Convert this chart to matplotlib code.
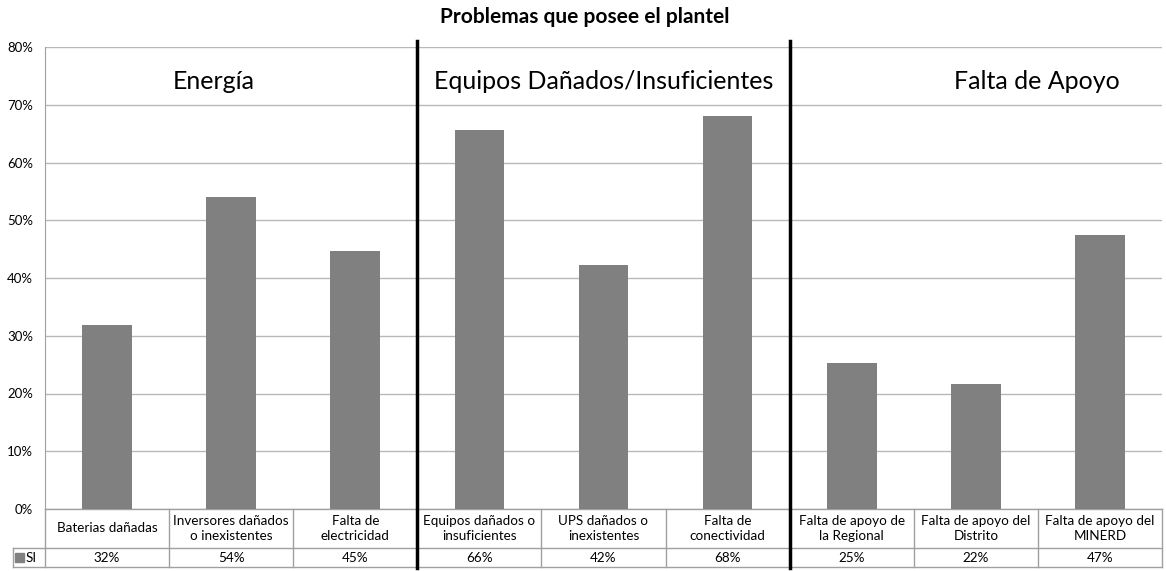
import numpy as np
import matplotlib
matplotlib.use('Agg')
import matplotlib.pyplot as plt
from matplotlib.transforms import blended_transform_factory
from matplotlib.patches import Rectangle

plt.rcParams['font.family'] = ['Lato', 'DejaVu Sans']

categories = ['Baterias dañadas', 'Inversores dañados\no inexistentes', 'Falta de\nelectricidad',
              'Equipos dañados o\ninsuficientes', 'UPS dañados o\ninexistentes', 'Falta de\nconectividad',
              'Falta de apoyo de\nla Regional', 'Falta de apoyo del\nDistrito', 'Falta de apoyo del\nMINERD']
values = [31.8, 54.1, 44.6, 65.6, 42.2, 68.1, 25.3, 21.6, 47.4]
table_labels = ['32%', '54%', '45%', '66%', '42%', '68%', '25%', '22%', '47%']
groups = ['Energía', 'Equipos Dañados/Insuficientes', 'Falta de Apoyo']
series_name = 'SI'

W, H = 1166, 571
fig = plt.figure(figsize=(W / 100, H / 100), dpi=100)
ax = fig.add_axes([45 / W, 1 - 509 / H, 1117 / W, 462 / H])

x = np.arange(len(values))
ax.bar(x, values, width=0.4, color='#808080', zorder=3)
ax.set_xlim(-0.5, len(values) - 0.5)
ax.set_ylim(0, 80)
ax.set_yticks(np.arange(0, 81, 10))
ax.set_yticklabels(['%d%%' % v for v in range(0, 81, 10)], fontsize=9.5)
ax.tick_params(axis='y', length=0, pad=8.5)
ax.set_xticks([])
ax.grid(axis='y', color='#b8b8b8', linewidth=1, zorder=0)
for s in ['top', 'right', 'bottom']:
    ax.spines[s].set_visible(False)
ax.spines['left'].set_color('#a0a0a0')

fig.text(585 / W, 1 - 17 / H, 'Problemas que posee el plantel', ha='center', va='center',
         fontsize=15, fontweight='bold')

# group headings
group_x = [0.86, 4.0, 7.49]
for gx, g in zip(group_x, groups):
    ax.text(gx, 74, g, ha='center', va='center', fontsize=18)

# data table below the axes
tr = blended_transform_factory(ax.transData, fig.transFigure)
y0 = 1 - 509 / H
y1 = 1 - 548 / H
y2 = 1 - 567 / H
xl = -0.5 - 32 / 124.1
xr = len(values) - 0.5
lc = '#a0a0a0'
ax.plot([-0.5, xr], [y0, y0], color=lc, lw=1, transform=tr, clip_on=False)
ax.plot([xl, xr], [y1, y1], color=lc, lw=1, transform=tr, clip_on=False)
ax.plot([xl, xr], [y2, y2], color=lc, lw=1, transform=tr, clip_on=False)
ax.plot([xl, xl], [y1, y2], color=lc, lw=1, transform=tr, clip_on=False)
for i in range(len(values) + 1):
    ax.plot([i - 0.5, i - 0.5], [y0, y2], color=lc, lw=1, transform=tr, clip_on=False)
for i, (c, t) in enumerate(zip(categories, table_labels)):
    ax.text(i, (y0 + y1) / 2, c, ha='center', va='center', fontsize=9.7,
            linespacing=1.35, transform=tr)
    ax.text(i, (y1 + y2) / 2, t, ha='center', va='center', fontsize=9.7, transform=tr)

# legend key in table
kx = -0.5 - 30 / 124.1
ax.add_patch(Rectangle((kx, 1 - 562 / H), 9 / 124.1, 9 / H, color='#808080',
                       transform=tr, clip_on=False))
ax.text(kx + 11 / 124.1, (y1 + y2) / 2, series_name, ha='left', va='center', fontsize=9.7,
        transform=tr)

# group separators
for sx in [2.5, 5.5]:
    ax.plot([sx, sx], [1 - 41 / H, 1 - 568 / H], color='black', lw=2.5,
            transform=tr, clip_on=False, zorder=5)

fig.savefig('out.png', dpi=100)
